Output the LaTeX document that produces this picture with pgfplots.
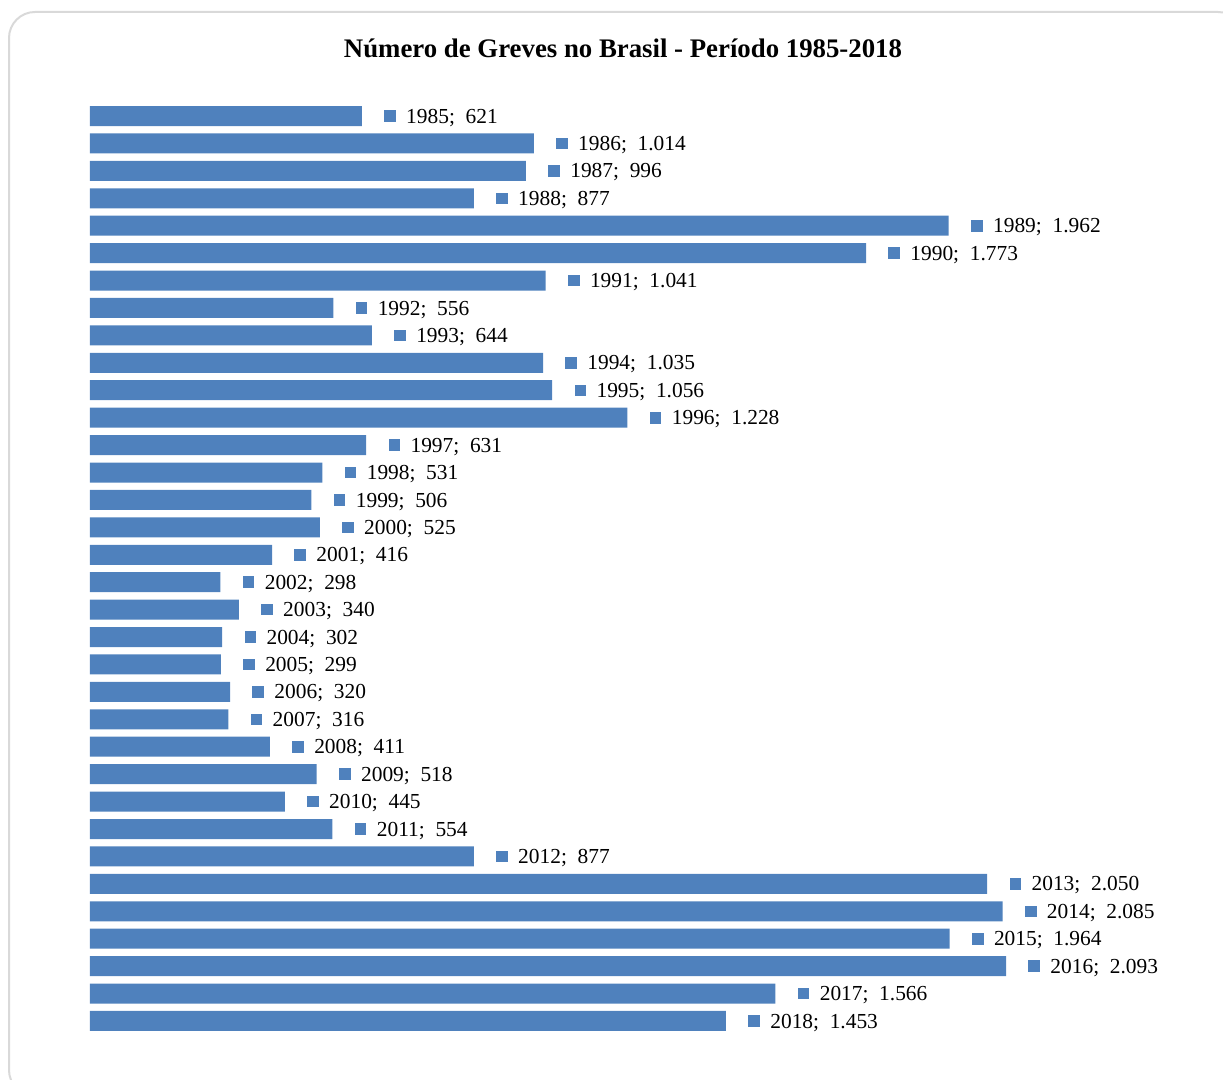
\documentclass[border=0pt]{standalone}
\usepackage{pgfplots}
\pgfplotsset{compat=1.18}
\usepackage{pgfplotstable}
\usepackage{fontspec}
\setmainfont{Liberation Serif}
\definecolor{barblue}{HTML}{4F81BD}
\definecolor{framegray}{HTML}{D9D9D9}
\pgfplotstableread{
val idx year
621 0 1985
1014 1 1986
996 2 1987
877 3 1988
1962 4 1989
1773 5 1990
1041 6 1991
556 7 1992
644 8 1993
1035 9 1994
1056 10 1995
1228 11 1996
631 12 1997
531 13 1998
506 14 1999
525 15 2000
416 16 2001
298 17 2002
340 18 2003
302 19 2004
299 20 2005
320 21 2006
316 22 2007
411 23 2008
518 24 2009
445 25 2010
554 26 2011
877 27 2012
2050 28 2013
2085 29 2014
1964 30 2015
2093 31 2016
1566 32 2017
1453 33 2018
}\greves
\begin{document}
\begin{tikzpicture}
\useasboundingbox (0,0) rectangle (611.5pt,540pt);
\draw[framegray, line width=1pt, rounded corners=13pt] (4.5pt,534pt) rectangle (622pt,-8pt);
\node[font=\bfseries\fontsize{13.4}{16}\selectfont] at (311.5pt,516pt) {Número de Greves no Brasil - Período 1985-2018};
\begin{axis}[
  at={(45pt,488.85pt)}, anchor=north west,
  scale only axis, width=547.1pt, height=466.2pt,
  xmin=0, xmax=2500, ymin=-0.5, ymax=33.5, y dir=reverse,
  axis lines=none, xbar, bar width=10pt, clip=false,
  /pgf/number format/assume math mode=true,
]
\addplot[fill=barblue, draw=none,
  point meta=explicit symbolic,
  visualization depends on={rawx \as \rawx},
  nodes near coords={\textcolor{barblue}{\raisebox{0.6pt}{\rule{5.8pt}{5.8pt}}}\hspace{5.2pt}\pgfplotspointmeta;\enspace\pgfmathprintnumber[fixed,precision=0,1000 sep={.},assume math mode=true]{\rawx}},
  nodes near coords style={anchor=west, inner sep=0pt, xshift=11pt, yshift=-0.8pt, font=\fontsize{10.7}{12}\selectfont, text=black},
] table[x=val, y=idx, meta=year] {\greves};
\end{axis}
\end{tikzpicture}
\end{document}
